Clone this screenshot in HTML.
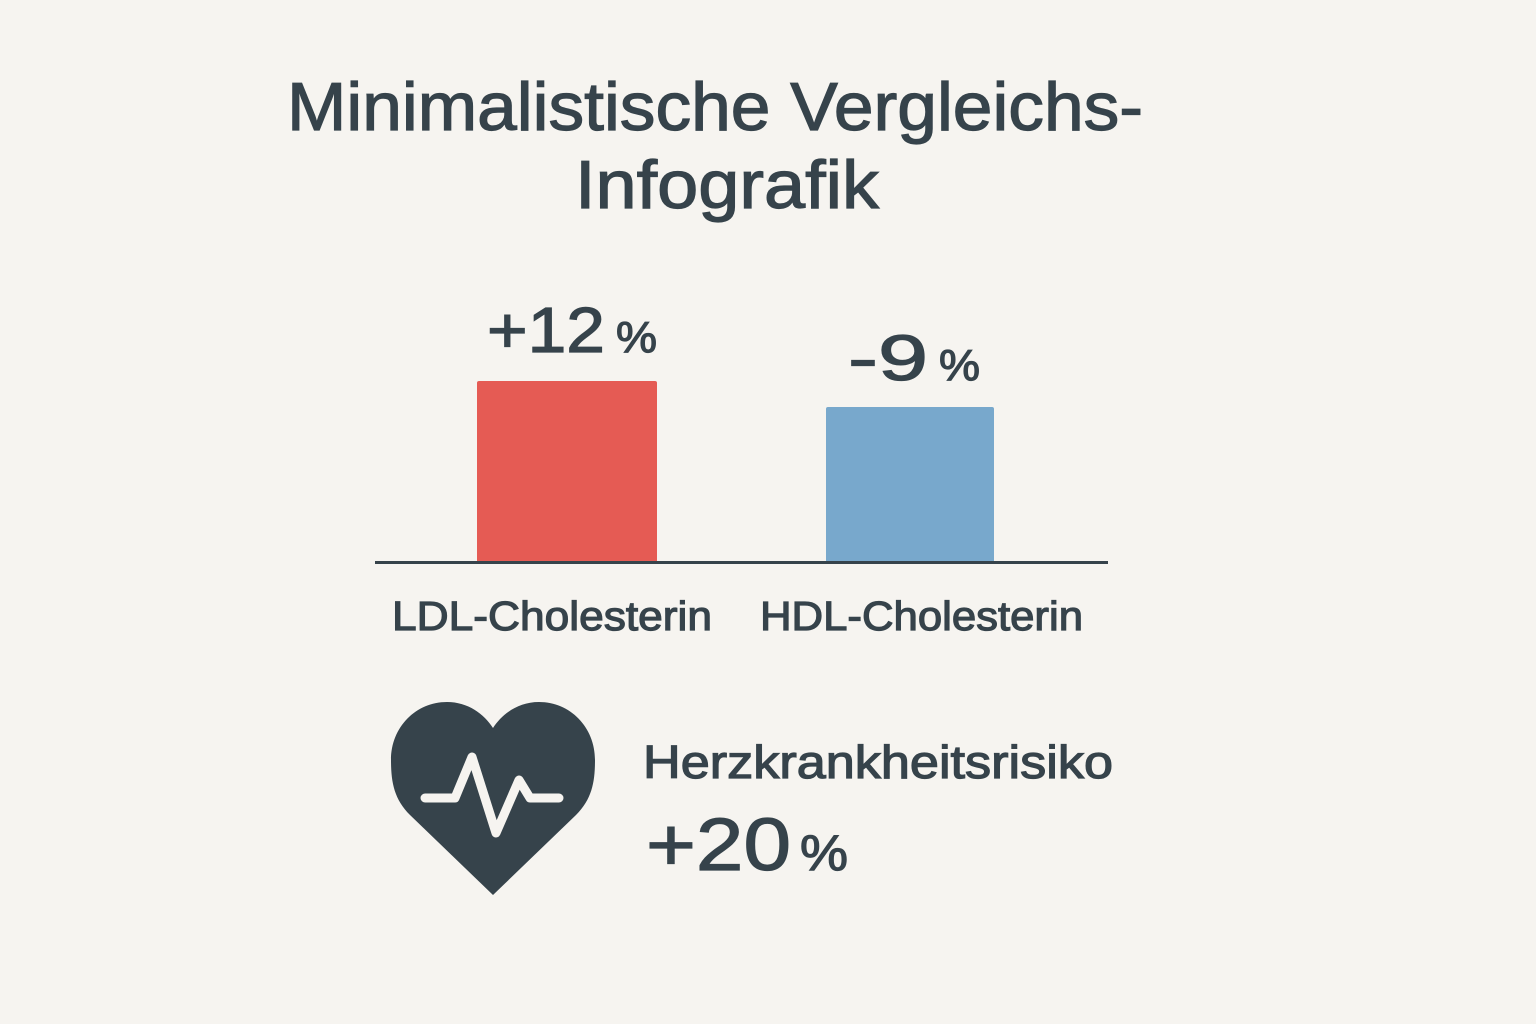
<!DOCTYPE html>
<html><head><meta charset="utf-8"><style>
html,body{margin:0;padding:0;background:#f6f4f0;}
svg{display:block;}
text{font-family:"Liberation Sans","DejaVu Sans",sans-serif;fill:#36434b;stroke:#36434b;stroke-width:1.2;}
</style></head><body>
<svg width="1536" height="1024" viewBox="0 0 1536 1024">
<rect width="1536" height="1024" fill="#f6f4f0"/>
<text x="287" y="130" font-size="68" textLength="856" lengthAdjust="spacingAndGlyphs">Minimalistische Vergleichs-</text>
<text x="575" y="208" font-size="68" textLength="304" lengthAdjust="spacingAndGlyphs">Infografik</text>
<rect x="477" y="381" width="180" height="182" rx="2" fill="#e55b54"/>
<rect x="826" y="407" width="168" height="156" rx="2" fill="#78a8cc"/>
<rect x="375" y="561" width="733" height="3" fill="#36434b"/>
<text x="487" y="352" font-size="64" textLength="118" lengthAdjust="spacingAndGlyphs">+12</text>
<text x="616" y="352" font-size="44" textLength="41" lengthAdjust="spacingAndGlyphs">%</text>
<text x="848" y="380" font-size="64" textLength="80" lengthAdjust="spacingAndGlyphs">-9</text>
<text x="939" y="380" font-size="44" textLength="41" lengthAdjust="spacingAndGlyphs">%</text>
<text x="392" y="630" font-size="41" textLength="320" lengthAdjust="spacingAndGlyphs">LDL-Cholesterin</text>
<text x="760" y="630" font-size="41" textLength="323" lengthAdjust="spacingAndGlyphs">HDL-Cholesterin</text>
<path d="M493 895 L410 815 C394 799 391 782 391 760 C391 727 416 702 447 702 C468 702 484 714 493 728 C502 714 518 702 539 702 C570 702 595 727 595 760 C595 782 592 799 576 815 Z" fill="#36434b"/>
<polyline points="425,798 455,798 472,757 496,833 519,780 530,798 559,798" fill="none" stroke="#f6f4f0" stroke-width="9" stroke-linecap="round" stroke-linejoin="round"/>
<text x="643" y="778" font-size="46" textLength="470" lengthAdjust="spacingAndGlyphs">Herzkrankheitsrisiko</text>
<text x="646" y="870" font-size="74" textLength="145" lengthAdjust="spacingAndGlyphs">+20</text>
<text x="800" y="870" font-size="50" textLength="48" lengthAdjust="spacingAndGlyphs">%</text>
</svg>
</body></html>
